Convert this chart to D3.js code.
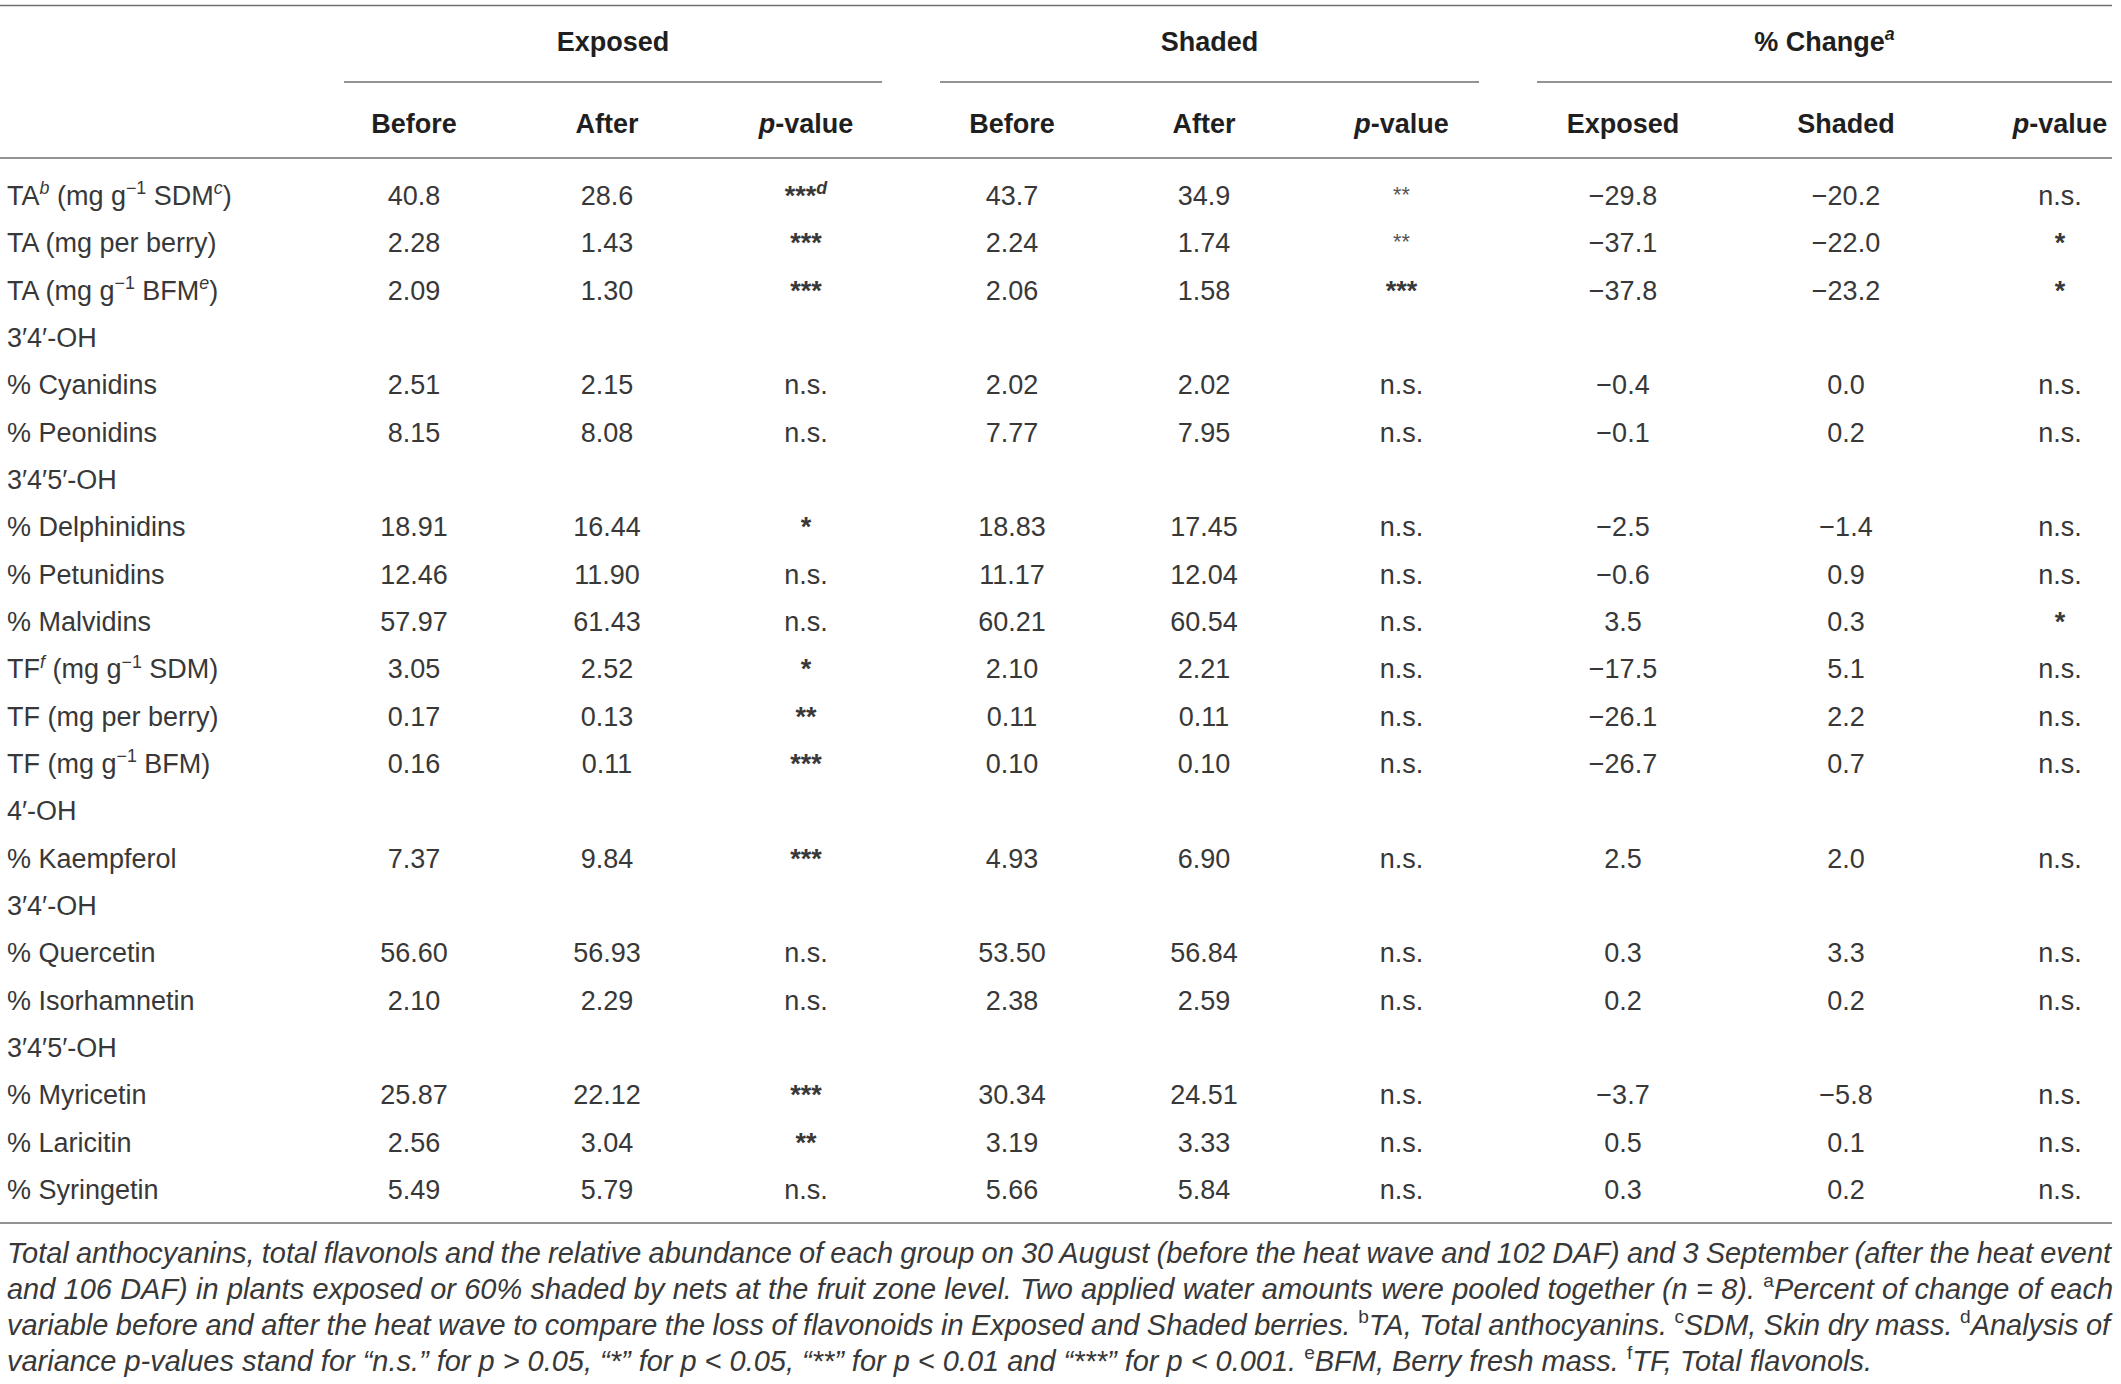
<!DOCTYPE html>
<meta charset="utf-8">
<head>
<style>
  body { margin: 0; background: #fff; }
  svg { display: block; }
  text { font-family: "Liberation Sans", Arial, sans-serif; fill: #383838; }
  .head { font-weight: bold; fill: #1f1f1f; }
  .rule { stroke: #6f6f6f; stroke-width: 1.6; }
  .caption { font-style: italic; }
</style>
<script src="https://d3js.org/d3.v7.min.js"></script>
</head>
<body>
<div id="chart"></div>
<script>
// ---- table content (markup: {i:..} italic, {s:..} superscript, {si:..} italic sup, {sbi:..} bold italic sup, {l:..} light stars, {u:..} upright sup)
var groups = ["Exposed", "Shaded", "% Change{sbi:a}"];
var subHeads = ["Before", "After", "{i:p}-value", "Before", "After", "{i:p}-value", "Exposed", "Shaded", "{i:p}-value"];

var rowLabels = [
  "TA{si:b} (mg g{s:\u22121} SDM{si:c})",
  "TA (mg per berry)",
  "TA (mg g{s:\u22121} BFM{si:e})",
  "3\u20324\u2032-OH",
  "% Cyanidins",
  "% Peonidins",
  "3\u20324\u20325\u2032-OH",
  "% Delphinidins",
  "% Petunidins",
  "% Malvidins",
  "TF{si:f} (mg g{s:\u22121} SDM)",
  "TF (mg per berry)",
  "TF (mg g{s:\u22121} BFM)",
  "4\u2032-OH",
  "% Kaempferol",
  "3\u20324\u2032-OH",
  "% Quercetin",
  "% Isorhamnetin",
  "3\u20324\u20325\u2032-OH",
  "% Myricetin",
  "% Laricitin",
  "% Syringetin"
];

var exposedBefore = ["40.8", "2.28", "2.09", null, "2.51", "8.15", null, "18.91", "12.46", "57.97", "3.05", "0.17", "0.16", null, "7.37", null, "56.60", "2.10", null, "25.87", "2.56", "5.49"];
var exposedAfter  = ["28.6", "1.43", "1.30", null, "2.15", "8.08", null, "16.44", "11.90", "61.43", "2.52", "0.13", "0.11", null, "9.84", null, "56.93", "2.29", null, "22.12", "3.04", "5.79"];
var exposedP      = ["***{sbi:d}", "***", "***", null, "n.s.", "n.s.", null, "*", "n.s.", "n.s.", "*", "**", "***", null, "***", null, "n.s.", "n.s.", null, "***", "**", "n.s."];
var shadedBefore  = ["43.7", "2.24", "2.06", null, "2.02", "7.77", null, "18.83", "11.17", "60.21", "2.10", "0.11", "0.10", null, "4.93", null, "53.50", "2.38", null, "30.34", "3.19", "5.66"];
var shadedAfter   = ["34.9", "1.74", "1.58", null, "2.02", "7.95", null, "17.45", "12.04", "60.54", "2.21", "0.11", "0.10", null, "6.90", null, "56.84", "2.59", null, "24.51", "3.33", "5.84"];
var shadedP       = ["{l:**}", "{l:**}", "***", null, "n.s.", "n.s.", null, "n.s.", "n.s.", "n.s.", "n.s.", "n.s.", "n.s.", null, "n.s.", null, "n.s.", "n.s.", null, "n.s.", "n.s.", "n.s."];
var changeExposed = ["\u221229.8", "\u221237.1", "\u221237.8", null, "\u22120.4", "\u22120.1", null, "\u22122.5", "\u22120.6", "3.5", "\u221217.5", "\u221226.1", "\u221226.7", null, "2.5", null, "0.3", "0.2", null, "\u22123.7", "0.5", "0.3"];
var changeShaded  = ["\u221220.2", "\u221222.0", "\u221223.2", null, "0.0", "0.2", null, "\u22121.4", "0.9", "0.3", "5.1", "2.2", "0.7", null, "2.0", null, "3.3", "0.2", null, "\u22125.8", "0.1", "0.2"];
var changeP       = ["n.s.", "*", "*", null, "n.s.", "n.s.", null, "n.s.", "n.s.", "*", "n.s.", "n.s.", "n.s.", null, "n.s.", null, "n.s.", "n.s.", null, "n.s.", "n.s.", "n.s."];

var captionLines = [
  "Total anthocyanins, total flavonols and the relative abundance of each group on 30 August (before the heat wave and 102 DAF) and 3 September (after the heat event",
  "and 106 DAF) in plants exposed or 60% shaded by nets at the fruit zone level. Two applied water amounts were pooled together (n = 8). {u:a}Percent of change of each",
  "variable before and after the heat wave to compare the loss of flavonoids in Exposed and Shaded berries. {u:b}TA, Total anthocyanins. {u:c}SDM, Skin dry mass. {u:d}Analysis of",
  "variance p-values stand for \u201cn.s.\u201d for p > 0.05, \u201c*\u201d for p < 0.05, \u201c**\u201d for p < 0.01 and \u201c***\u201d for p < 0.001. {u:e}BFM, Berry fresh mass. {u:f}TF, Total flavonols."
];

var columns = [exposedBefore, exposedAfter, exposedP, shadedBefore, shadedAfter, shadedP, changeExposed, changeShaded, changeP];

// ---- layout
var width = 2121, height = 1384;
var tableRight = 2112;
var labelWidth = 315;
var colWidths = [198, 188, 210, 202, 182, 213, 230, 216, 212];
var groupPad = 29;
var fontSize = 27;

var colStarts = [labelWidth].concat(Array.from(d3.cumsum(colWidths), function (d) { return labelWidth + d; }));
var colKeys = d3.range(columns.length);
var x = d3.scaleOrdinal()
  .domain(colKeys)
  .range(colKeys.map(function (i) { return colStarts[i] + colWidths[i] / 2; }));

var y = d3.scalePoint()
  .domain(d3.range(rowLabels.length))
  .range([205, 1199]);

var capY = d3.scalePoint()
  .domain(d3.range(captionLines.length))
  .range([1263, 1371]);

var svg = d3.select("#chart").append("svg")
  .attr("width", width)
  .attr("height", height);

// writes a markup string into a text selection as tspans
function rich(text, str, size) {
  var parts = str.split(/\{(\w+):([^}]*)\}/);
  var shift = 0;
  for (var k = 0; k < parts.length; k++) {
    var kind = null, content = parts[k];
    if (k % 3 === 1) { kind = parts[k]; content = parts[k + 1]; k++; }
    else if (k % 3 === 2) continue;
    if (!content) continue;
    var t = text.append("tspan").text(content);
    var sup = kind && kind.charAt(0) === "s" || kind === "u";
    if (sup) {
      t.attr("font-size", size * 0.66).attr("dy", -size * 0.4 - shift);
      shift = -size * 0.4;
      if (kind === "u") t.attr("font-style", "normal");
      if (kind === "si" || kind === "sbi") t.attr("font-style", "italic");
      if (kind === "sbi") t.attr("font-weight", "bold");
    } else {
      if (shift) t.attr("dy", -shift);
      shift = 0;
      if (kind === "i") t.attr("font-style", "italic");
      if (kind === "l") {
        t.attr("font-weight", "normal").attr("font-size", size * 0.8)
          .attr("dy", -size * 0.12).attr("fill", "#555");
        shift = -size * 0.12;
      }
    }
  }
  return text;
}

// ---- rules
var rules = svg.append("g");
[5.5, 158, 1223].forEach(function (ry) {
  rules.append("line").attr("class", "rule")
    .attr("x1", 0).attr("x2", tableRight).attr("y1", ry).attr("y2", ry);
});

groups.forEach(function (g, gi) {
  var x1 = colStarts[gi * 3] + groupPad;
  var x2 = Math.min(colStarts[gi * 3 + 3] - groupPad, tableRight);
  rules.append("line").attr("class", "rule")
    .attr("x1", x1).attr("x2", x2).attr("y1", 82).attr("y2", 82);
  rich(svg.append("text").attr("class", "head")
    .attr("x", (x1 + x2) / 2).attr("y", 51)
    .attr("text-anchor", "middle")
    .attr("font-size", fontSize), g, fontSize);
});

// ---- sub headers
svg.append("g").selectAll("text")
  .data(subHeads)
  .join("text")
  .attr("class", "head")
  .attr("x", function (d, i) { return x(i); })
  .attr("y", 133)
  .attr("text-anchor", "middle")
  .attr("font-size", fontSize)
  .each(function (d) { rich(d3.select(this), d, fontSize); });

// ---- row labels
svg.append("g").selectAll("text")
  .data(rowLabels)
  .join("text")
  .attr("x", 7)
  .attr("y", function (d, i) { return y(i); })
  .attr("font-size", fontSize)
  .each(function (d) { rich(d3.select(this), d, fontSize); });

// ---- cells
var cells = [];
columns.forEach(function (col, ci) {
  col.forEach(function (v, ri) { if (v !== null) cells.push({ c: ci, r: ri, v: v }); });
});

svg.append("g").selectAll("text")
  .data(cells)
  .join("text")
  .attr("x", function (d) { return x(d.c); })
  .attr("y", function (d) { return y(d.r); })
  .attr("text-anchor", "middle")
  .attr("font-size", fontSize)
  .attr("font-weight", function (d) { return /^\*/.test(d.v) ? "bold" : null; })
  .each(function (d) { rich(d3.select(this), d.v, fontSize); });

// ---- caption (last line sets the size, the others are justified)
var capLeft = 7, capRight = 2113;
function drawCaption(size) {
  svg.selectAll(".caption").remove();
  return svg.append("g").selectAll("text")
    .data(captionLines)
    .join("text")
    .attr("class", "caption")
    .attr("x", capLeft)
    .attr("y", function (d, i) { return capY(i); })
    .attr("font-size", size)
    .each(function (d) { rich(d3.select(this), d, size); });
}
var capSize = 25;
var cap = drawCaption(capSize);
var lastW = cap.nodes()[3].getBBox().width;
capSize = capSize * 1866 / lastW;
cap = drawCaption(capSize);
cap.each(function (d, i) {
  if (i === captionLines.length - 1) return;
  var w = this.getBBox().width;
  var spaces = (this.textContent.match(/ /g) || []).length;
  d3.select(this).style("word-spacing", ((capRight - capLeft - w) / spaces) + "px");
});
</script>
</body>
